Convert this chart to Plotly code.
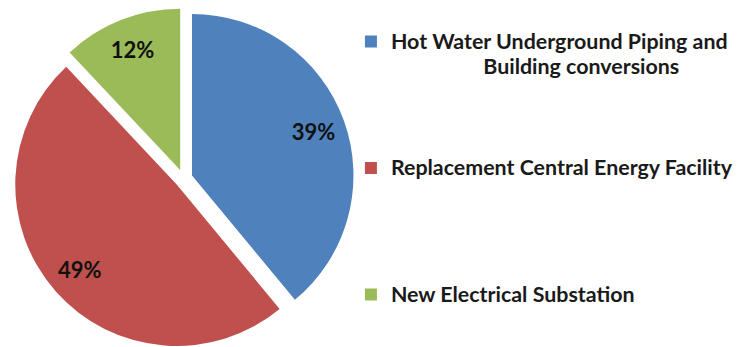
import plotly.graph_objects as go

NB = "\u00a0"
categories = [
    "Hot Water Underground Piping and",
    "Replacement Central Energy Facility",
    "New Electrical Substation",
]
values = [39, 49, 12]
colors = ["#4F81BD", "#C0504D", "#9BBB59"]


def big(s):
    return '<span style="font-size:21.4px">' + s + "</span>"


legend_labels = [
    big(categories[0]) + "<br>" + NB * 20 + big("Building conversions") + ("<br>" + NB) * 3,
    big(categories[1]) + ("<br>" + NB) * 4,
    big(categories[2]),
]

pull = [0.056, 0.056, 0.056]
domain = dict(x=[0.0067, 0.4638], y=[0.0173, 1.0])

fig = go.Figure()
fig.add_trace(
    go.Pie(
        labels=legend_labels,
        values=values,
        sort=False,
        direction="clockwise",
        rotation=0,
        pull=pull,
        marker=dict(colors=colors, line=dict(width=0)),
        textinfo="none",
        domain=domain,
        hoverinfo="percent",
    )
)
# text layer: same slices, transparent, ring so labels sit near the rim
fig.add_trace(
    go.Pie(
        labels=legend_labels,
        values=values,
        sort=False,
        direction="clockwise",
        rotation=0,
        pull=pull,
        hole=0.6,
        marker=dict(colors=["rgba(0,0,0,0)"] * 3, line=dict(width=0)),
        textinfo="percent",
        texttemplate="%{percent:.0%}",
        textposition="inside",
        insidetextorientation="horizontal",
        textfont=dict(family="Lato", size=22, color="#111111", weight="bold"),
        domain=domain,
        showlegend=False,
        hoverinfo="skip",
    )
)

fig.update_layout(
    width=746,
    height=347,
    margin=dict(l=0, r=0, t=0, b=0),
    paper_bgcolor="white",
    plot_bgcolor="white",
    showlegend=True,
    legend=dict(
        x=0.4597,
        y=0.958,
        xanchor="left",
        yanchor="top",
        valign="top",
        font=dict(family="Lato", size=19, color="#1a1a1a", weight="bold"),
        bgcolor="rgba(0,0,0,0)",
    ),
)

fig.write_html("out.html")
